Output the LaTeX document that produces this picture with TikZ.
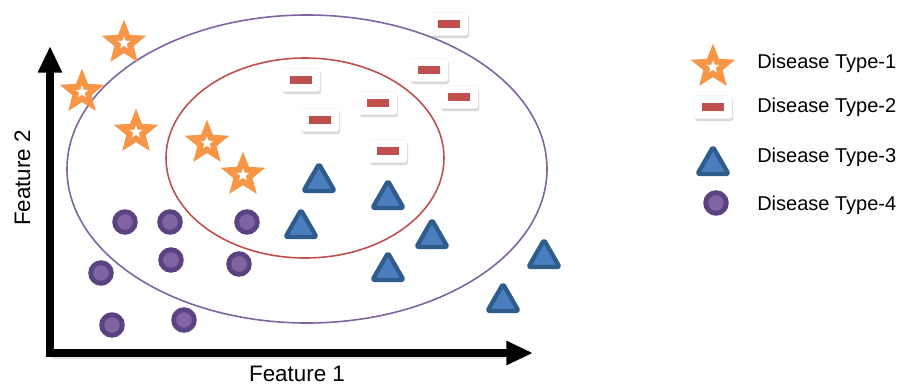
\documentclass[tikz,border=0pt]{standalone}
\usepackage{fontspec}
\setmainfont{Liberation Sans}
\usetikzlibrary{arrows.meta,shapes.geometric,shadows}
\definecolor{starorange}{HTML}{F79646}
\definecolor{boxred}{HTML}{C0504D}
\definecolor{trifill}{HTML}{4A7EBF}
\definecolor{tridraw}{HTML}{2E5C8C}
\definecolor{dotfill}{HTML}{8064A2}
\definecolor{dotdraw}{HTML}{5B4280}
\definecolor{ellpurple}{HTML}{8064A2}
\definecolor{ellred}{HTML}{C0504D}
\tikzset{
  starmark/.style={star, star points=5, star point ratio=2.3, fill=starorange, inner sep=0pt, minimum size=35pt},
  starhole/.style={star, star points=5, star point ratio=2.35, fill=white, inner sep=0pt, minimum size=10pt},
  boxmark/.style={rectangle, rounded corners=2pt, fill=white, draw=black!6, line width=0.3pt, inner sep=0pt,
    minimum width=28.5pt, minimum height=17.5pt,
    drop shadow={shadow xshift=0.8pt, shadow yshift=-1.8pt, opacity=0.3}},
  trimark/.style={regular polygon, regular polygon sides=3, fill=trifill, draw=tridraw, line width=3.2pt,
    line join=round, rounded corners=1.2pt, inner sep=0pt, minimum size=27pt},
  dotmark/.style={circle, fill=dotfill, draw=dotdraw, line width=3.6pt, inner sep=0pt, minimum size=15.5pt},
  axis/.style={line width=5.4pt, {Triangle[width=17pt,length=20pt]}-{Triangle[width=17pt,length=20pt]}},
  axisshadow/.style={line width=5.4pt, black, opacity=0.1},
  leglabel/.style={anchor=base west, font=\fontsize{15}{18}\selectfont, inner sep=0pt},
  axlabel/.style={anchor=base, font=\fontsize{16.8}{20}\selectfont, inner sep=0pt}
}
\newcommand{\boxcontent}{\textcolor{boxred}{\rule{16.5pt}{6pt}}}
\begin{document}
\begin{tikzpicture}[x=0.75pt,y=-0.75pt]
\useasboundingbox (0,0) rectangle (899,385);
% ellipses
\draw[ellpurple, line width=1.2pt] (307,169) ellipse [x radius=240, y radius=154];
\draw[ellred, line width=1.2pt] (305,158) ellipse [x radius=139, y radius=100];
% axes
\coordinate (ytip) at (50,46);
\coordinate (origin) at (50,353);
\coordinate (xtip) at (533,353);
\coordinate (xshadowend) at (505,355);
\draw[axisshadow] ([shift={(2,2)}]origin) -- (xshadowend);
\draw[axis] (ytip) -- (origin) -- (xtip);
\node[axlabel] (f1) at (297,381) {Feature 1};
\node[axlabel, rotate=90] (f2) at (30,178) {Feature 2};
% stars
\foreach \n/\x/\y in {s1/124/43, s2/82/92, s3/136/132, s4/207/143, s5/243/175, ls/713/67}{
  \node[starmark] (\n) at (\x,\y) {};
  \node[starhole] (\n h) at (\x,\y) {};
}
% boxes
\foreach \n/\x/\y in {b1/449/24, b2/301/80, b3/429/70, b4/459/97, b5/378/103, b6/320/120, b7/388/151, lb/713/107}{
  \node[boxmark] (\n) at (\x,\y) {\boxcontent};
}
% triangles
\foreach \n/\x/\y in {t1/319/182, t2/388/199, t3/301/228, t4/432/238, t5/388/271, t6/544/258, t7/503/302, lt/713/165}{
  \node[trimark] (\n) at (\x,\y) {};
}
% dots
\foreach \n/\x/\y in {d1/125/222, d2/170/222, d3/247/222, d4/171/260, d5/239/264, d6/101/273, d7/112/325, d8/184/320, ld/716/203}{
  \node[dotmark] (\n) at (\x,\y) {};
}
% legend
\node[leglabel] (l1) at (757,69) {Disease Type-1};
\node[leglabel] (l2) at (757,113) {Disease Type-2};
\node[leglabel] (l3) at (757,162) {Disease Type-3};
\node[leglabel] (l4) at (757,210) {Disease Type-4};
\end{tikzpicture}
\end{document}
